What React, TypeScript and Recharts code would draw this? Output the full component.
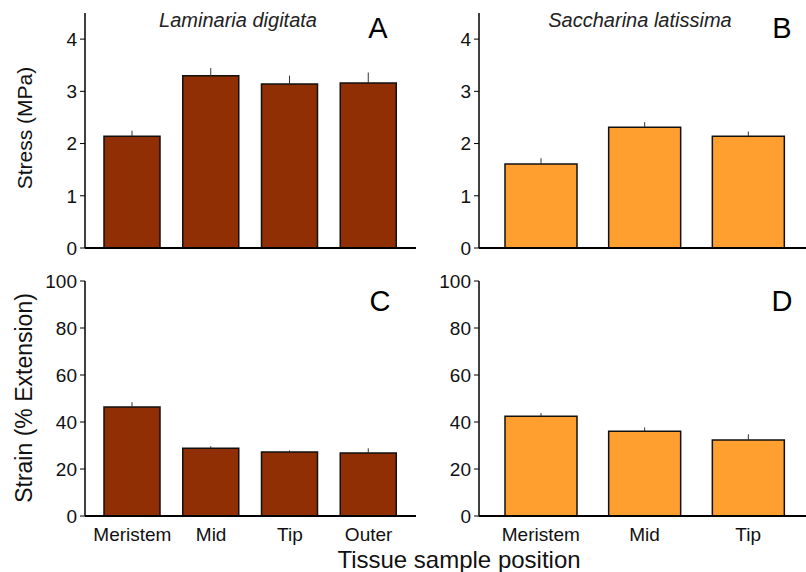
import React from "react"
import { Bar, BarChart, ErrorBar, XAxis, YAxis } from "recharts"

// tissue positions
const laminariaPositions = ["Meristem", "Mid", "Tip", "Outer"]
const saccharinaPositions = ["Meristem", "Mid", "Tip"]

// breaking stress (MPa) and standard error
const laminariaStress = [2.14, 3.3, 3.14, 3.16]
const laminariaStressSE = [0.105, 0.145, 0.16, 0.2]
const saccharinaStress = [1.61, 2.31, 2.14]
const saccharinaStressSE = [0.11, 0.1, 0.09]

// breaking strain (% extension) and standard error
const laminariaStrain = [46.4, 28.8, 27.2, 26.8]
const laminariaStrainSE = [2.0, 0.9, 0.7, 2.0]
const saccharinaStrain = [42.4, 36.1, 32.3]
const saccharinaStrainSE = [1.4, 1.6, 2.5]

const stressTicks = [0, 1, 2, 3, 4]
const strainTicks = [0, 20, 40, 60, 80, 100]

const BROWN = "#8f2f03"
const ORANGE = "#ff9f30"
const FONT = "'Liberation Sans', Arial, Helvetica, sans-serif"

function rows(cats: string[], vals: number[], se: number[]) {
  return cats.map((c, i) => ({ position: c, value: vals[i], err: [0, se[i]] }))
}

interface PanelProps {
  data: Array<{ position: string; value: number; err: number[] }>
  color: string
  left: number
  top: number
  height: number
  marginTop: number
  marginRight: number
  yWidth: number
  domain: [number, number]
  ticks: number[]
  showX: boolean
  xHeight: number
  barSize: number
  pad: number
}

function Panel(p: PanelProps) {
  return (
    <div style={{ position: "absolute", left: p.left, top: p.top }}>
      <BarChart
        width={420}
        height={p.height}
        data={p.data}
        margin={{ top: p.marginTop, right: p.marginRight, bottom: 0, left: 0 }}
        barSize={p.barSize}
      >
        <XAxis
          dataKey="position"
          type="category"
          interval={0}
          padding={{ left: p.pad, right: p.pad }}
          height={p.xHeight}
          axisLine={{ stroke: "#000", strokeWidth: 2 }}
          tickLine={false}
          tickSize={6}
          tickMargin={6}
          tick={p.showX ? { fontSize: 19, fill: "#111", fontFamily: FONT } : false}
        />
        <YAxis
          type="number"
          width={p.yWidth}
          domain={p.domain}
          ticks={p.ticks}
          interval={0}
          axisLine={{ stroke: "#000", strokeWidth: 1.5 }}
          tickLine={{ stroke: "#000", strokeWidth: 1 }}
          tickSize={5}
          tickMargin={3}
          tick={{ fontSize: 19, fill: "#111", fontFamily: FONT }}
        />
        <Bar dataKey="value" fill={p.color} stroke="#111" strokeWidth={1.5} isAnimationActive={false}>
          <ErrorBar dataKey="err" direction="y" width={0} stroke="#333" strokeWidth={1} isAnimationActive={false} />
        </Bar>
      </BarChart>
    </div>
  )
}

export default function App() {
  return (
    <div
      style={{
        position: "fixed",
        left: 0,
        top: 0,
        width: 806,
        height: 572,
        overflow: "hidden",
        background: "#fff",
        fontFamily: FONT,
      }}
    >
      <Panel
        data={rows(laminariaPositions, laminariaStress, laminariaStressSE)}
        color={BROWN}
        left={0}
        top={0}
        height={260}
        marginTop={13}
        marginRight={4}
        yWidth={85}
        domain={[0, 4.5]}
        ticks={stressTicks}
        showX={false}
        xHeight={12}
        barSize={56}
        pad={8}
      />
      <Panel
        data={rows(saccharinaPositions, saccharinaStress, saccharinaStressSE)}
        color={ORANGE}
        left={400}
        top={0}
        height={260}
        marginTop={13}
        marginRight={10}
        yWidth={79}
        domain={[0, 4.5]}
        ticks={stressTicks}
        showX={false}
        xHeight={12}
        barSize={72}
        pad={10}
      />
      <Panel
        data={rows(laminariaPositions, laminariaStrain, laminariaStrainSE)}
        color={BROWN}
        left={0}
        top={260}
        height={312}
        marginTop={21}
        marginRight={4}
        yWidth={85}
        domain={[0, 100]}
        ticks={strainTicks}
        showX={true}
        xHeight={56}
        barSize={56}
        pad={8}
      />
      <Panel
        data={rows(saccharinaPositions, saccharinaStrain, saccharinaStrainSE)}
        color={ORANGE}
        left={400}
        top={260}
        height={312}
        marginTop={21}
        marginRight={10}
        yWidth={79}
        domain={[0, 100]}
        ticks={strainTicks}
        showX={true}
        xHeight={56}
        barSize={72}
        pad={10}
      />
      <svg
        width={806}
        height={572}
        style={{ position: "absolute", left: 0, top: 0, pointerEvents: "none" }}
        fontFamily={FONT}
      >
        <text x={238} y={27} textAnchor="middle" fontSize={20} fontStyle="italic" fill="#222">
          Laminaria digitata
        </text>
        <text x={640} y={27} textAnchor="middle" fontSize={20} fontStyle="italic" fill="#222">
          Saccharina latissima
        </text>
        <text x={378} y={38} textAnchor="middle" fontSize={29} fill="#000">A</text>
        <text x={782} y={38} textAnchor="middle" fontSize={29} fill="#000">B</text>
        <text x={380} y={311} textAnchor="middle" fontSize={29} fill="#000">C</text>
        <text x={782} y={311} textAnchor="middle" fontSize={29} fill="#000">D</text>
        <text transform="translate(32,128) rotate(-90)" textAnchor="middle" fontSize={21} fill="#111">
          Stress (MPa)
        </text>
        <text transform="translate(32,398) rotate(-90)" textAnchor="middle" fontSize={23} fill="#111">
          Strain (% Extension)
        </text>
        <text x={459} y={568} textAnchor="middle" fontSize={24} fill="#111">
          Tissue sample position
        </text>
      </svg>
    </div>
  )
}
